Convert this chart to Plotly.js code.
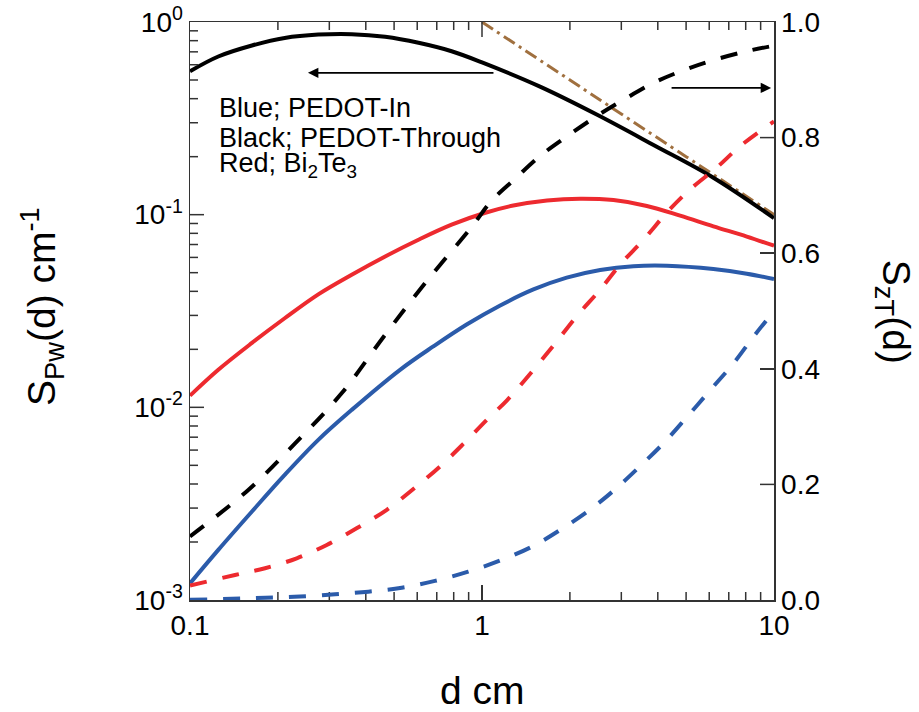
<!DOCTYPE html>
<html>
<head>
<meta charset="utf-8">
<script src="https://cdn.plot.ly/plotly-3.0.1.min.js"></script>
<style>html,body{margin:0;padding:0;background:#fff;}#chart{width:919px;height:712px;}</style>
</head>
<body>
<div id="chart"></div>
<script>
// ---- data (d in cm) ----
// S_Pw(d) cm^-1, left log axis, solid lines
const dSpwBlue = [0.1, 0.125, 0.163, 0.211, 0.275, 0.358, 0.524, 0.681, 0.886, 1.15, 1.5, 1.95, 2.54, 3.3, 4.3, 6.2, 8.07, 10];
const spwBlue  = [0.00122, 0.00182, 0.00288, 0.00446, 0.00678, 0.0097, 0.01566, 0.0207, 0.0269, 0.0337, 0.0409, 0.0471, 0.0516, 0.0540, 0.0543, 0.0522, 0.0494, 0.0463];

const dSpwRed = [0.1, 0.125, 0.163, 0.211, 0.275, 0.358, 0.466, 0.606, 0.787, 1.02, 1.28, 1.67, 2.17, 2.82, 3.67, 4.77, 6.2, 8.07, 10];
const spwRed  = [0.0115, 0.01567, 0.0216, 0.029, 0.0386, 0.0488, 0.0607, 0.0741, 0.0887, 0.102, 0.1115, 0.1185, 0.121, 0.119, 0.111, 0.0988, 0.087, 0.077, 0.069];

const dSpwBlack = [0.1, 0.125, 0.163, 0.211, 0.275, 0.358, 0.466, 0.606, 0.787, 1.0, 1.58, 2.48, 3.91, 6.18, 10];
const spwBlack  = [0.555, 0.662, 0.755, 0.826, 0.860, 0.865, 0.838, 0.780, 0.705, 0.617, 0.462, 0.330, 0.228, 0.156, 0.096];

// reference line (brown dash-dot, left axis)
const dRef = [1, 2, 3, 5, 7, 10];
const sRef = [1.0, 0.5, 0.333, 0.2, 0.143, 0.1];

// S_zT(d), right linear axis, dashed lines
const dSztBlue = [0.1, 0.139, 0.181, 0.238, 0.314, 0.408, 0.531, 0.69, 0.897, 1.15, 1.48, 1.85, 2.34, 2.88, 3.47, 4.18, 5.04, 6.07, 7.28, 8.52, 10];
const sztBlue  = [0.0005, 0.002, 0.004, 0.006, 0.010, 0.0144, 0.0213, 0.033, 0.049, 0.068, 0.092, 0.121, 0.156, 0.193, 0.231, 0.271, 0.317, 0.364, 0.410, 0.456, 0.500];

const dSztRed = [0.1, 0.1426, 0.1807, 0.232, 0.294, 0.372, 0.472, 0.582, 0.718, 0.863, 1.04, 1.22, 1.5, 1.8, 2.11, 2.54, 2.97, 3.57, 4.29, 5.15, 6.36, 7.65, 10];
const sztRed  = [0.025, 0.0433, 0.055, 0.0722, 0.0952, 0.124, 0.156, 0.192, 0.231, 0.270, 0.312, 0.346, 0.398, 0.447, 0.491, 0.537, 0.580, 0.623, 0.670, 0.710, 0.748, 0.785, 0.828];

const dSztBlack = [0.1, 0.158, 0.229, 0.331, 0.466, 0.638, 0.923, 1.08, 1.30, 1.58, 1.94, 2.45, 3.02, 3.88, 4.99, 6.40, 8.32, 10];
const sztBlack  = [0.110, 0.190, 0.271, 0.358, 0.459, 0.548, 0.646, 0.691, 0.729, 0.768, 0.801, 0.836, 0.864, 0.895, 0.918, 0.936, 0.951, 0.959];

// ---- ticks ----
const xTickVals = [0.1, 1, 10];
const xTickText = ['0.1', '1', '10'];
const xMinor = [0.2, 0.3, 0.4, 0.5, 0.6, 0.7, 0.8, 0.9, 2, 3, 4, 5, 6, 7, 8, 9];
const yTickVals = [0.001, 0.01, 0.1, 1];
const yTickText = ['10<sup>-3</sup>', '10<sup>-2</sup>', '10<sup>-1</sup>', '10<sup>0</sup>'];
const yMinor = [0.002, 0.003, 0.004, 0.005, 0.006, 0.007, 0.008, 0.009,
                0.02, 0.03, 0.04, 0.05, 0.06, 0.07, 0.08, 0.09,
                0.2, 0.3, 0.4, 0.5, 0.6, 0.7, 0.8, 0.9];
const y2TickVals = [0, 0.2, 0.4, 0.6, 0.8, 1.0];
const y2TickText = ['0.0', '0.2', '0.4', '0.6', '0.8', '1.0'];

const RED = '#ED2A2F', BLUE = '#2B5BAA', BLACK = '#000000', BROWN = '#A0703F';
const FONT = 'Liberation Sans, Arial, sans-serif';
const dashPat = '17px,16px';
const AX = '#333333';

const W = 919, H = 712, M = {l: 190, r: 145, t: 22, b: 112};
const PW = W - M.l - M.r, PH = H - M.t - M.b;
const XR = [-1, 1], YR = [-3, 0], Y2R = [0, 1];

function line(x, y, color, axis, dash, width) {
  return {x: x, y: y, type: 'scatter', mode: 'lines', xaxis: 'x', yaxis: axis,
    line: {color: color, width: width || 4, dash: dash || 'solid', shape: 'spline', smoothing: 1.0},
    showlegend: false, hoverinfo: 'skip'};
}

// inside tick marks, built from the tick value arrays (axis decoration)
const pxPerDecX = PW / (XR[1] - XR[0]), pxPerDecY = PH / (YR[1] - YR[0]), pxPerUnitY2 = PH / (Y2R[1] - Y2R[0]);
const inner = arr => arr.filter(v => v > arr[0] && v < arr[arr.length - 1]);
const tX = [], tY = [], t2X = [], t2Y = [];
function xTick(v, len) {
  const yBot = Math.pow(10, YR[0]), yTop = Math.pow(10, YR[1]);
  tX.push(v, v, null, v, v, null);
  tY.push(yBot, Math.pow(10, YR[0] + len / pxPerDecY), null, yTop, Math.pow(10, YR[1] - len / pxPerDecY), null);
}
function yTick(v, len) {
  tX.push(Math.pow(10, XR[0]), Math.pow(10, XR[0] + len / pxPerDecX), null);
  tY.push(v, v, null);
}
function y2Tick(v, len) {
  t2X.push(Math.pow(10, XR[1]), Math.pow(10, XR[1] - len / pxPerDecX), null);
  t2Y.push(v, v, null);
}
inner(xTickVals).forEach(v => xTick(v, 15));
xMinor.forEach(v => xTick(v, 8));
inner(yTickVals).forEach(v => yTick(v, 14));
yMinor.forEach(v => yTick(v, 8));
inner(y2TickVals).forEach(v => y2Tick(v, 14));

const traces = [
  line(dSztBlue, sztBlue, BLUE, 'y2', dashPat),
  line(dSztRed, sztRed, RED, 'y2', dashPat),
  line(dSztBlack, sztBlack, BLACK, 'y2', dashPat),
  line(dRef, sRef, BROWN, 'y', '13px,5px,3px,5px', 3),
  line(dSpwBlue, spwBlue, BLUE, 'y'),
  line(dSpwRed, spwRed, RED, 'y'),
  line(dSpwBlack, spwBlack, BLACK, 'y'),
  {x: tX, y: tY, xaxis: 'x', yaxis: 'y', type: 'scatter', mode: 'lines', connectgaps: false,
   line: {color: AX, width: 1.5}, showlegend: false, hoverinfo: 'skip'},
  {x: t2X, y: t2Y, xaxis: 'x', yaxis: 'y2', type: 'scatter', mode: 'lines', connectgaps: false,
   line: {color: AX, width: 1.5}, showlegend: false, hoverinfo: 'skip'}
];

const layout = {
  width: W, height: H,
  margin: M,
  paper_bgcolor: '#ffffff', plot_bgcolor: '#ffffff',
  font: {family: FONT, size: 28, color: '#000'},
  xaxis: {type: 'log', range: XR, tickvals: xTickVals, ticktext: xTickText,
    ticks: 'inside', ticklen: 15, tickwidth: 1.5, tickcolor: AX,
    showline: true, linecolor: AX, linewidth: 1.5, mirror: true, showgrid: false, zeroline: false},
  yaxis: {type: 'log', range: YR, tickvals: yTickVals, ticktext: yTickText,
    ticks: 'inside', ticklen: 14, tickwidth: 1.5, tickcolor: AX,
    showline: true, linecolor: AX, linewidth: 1.5, mirror: false, showgrid: false, zeroline: false},
  yaxis2: {overlaying: 'y', anchor: 'x', side: 'right', range: Y2R, tickvals: y2TickVals, ticktext: y2TickText,
    ticks: 'inside', ticklen: 14, tickwidth: 1.5, tickcolor: AX,
    showline: true, linecolor: AX, linewidth: 1.5, showgrid: false, zeroline: false},
  annotations: [
    {text: 'd cm', xref: 'paper', yref: 'paper', x: 0.5, y: -0.156, xanchor: 'center', yanchor: 'middle',
      showarrow: false, font: {size: 39}},
    {text: 'S<sub>Pw</sub>(d) cm<sup>-1</sup>', xref: 'paper', yref: 'paper', x: -0.2534, y: 0.507,
      xanchor: 'center', yanchor: 'middle', textangle: -90, showarrow: false, font: {size: 39}},
    {text: 'S<sub>zT</sub>(d)', xref: 'paper', yref: 'paper', x: 1.205, y: 0.499,
      xanchor: 'center', yanchor: 'middle', textangle: 90, showarrow: false, font: {size: 39}},
    {text: 'Blue; PEDOT-In', xref: 'paper', yref: 'paper', x: 0.0454, y: 0.851,
      xanchor: 'left', yanchor: 'middle', showarrow: false, font: {size: 27}},
    {text: 'Black; PEDOT-Through', xref: 'paper', yref: 'paper', x: 0.0454, y: 0.8,
      xanchor: 'left', yanchor: 'middle', showarrow: false, font: {size: 27}},
    {text: 'Red; Bi<sub>2</sub>Te<sub>3</sub>', xref: 'paper', yref: 'paper', x: 0.0454, y: 0.752,
      xanchor: 'left', yanchor: 'middle', showarrow: false, font: {size: 27}},
    {text: '', xref: 'paper', yref: 'paper', x: 0.202, y: 0.912, ax: 187, ay: 0,
      showarrow: true, arrowhead: 2, arrowsize: 1.3, arrowwidth: 1.6, arrowcolor: '#000'},
    {text: '', xref: 'paper', yref: 'paper', x: 0.995, y: 0.886, ax: -101, ay: 0,
      showarrow: true, arrowhead: 2, arrowsize: 1.3, arrowwidth: 1.6, arrowcolor: '#000'}
  ]
};

Plotly.newPlot('chart', traces, layout, {staticPlot: true, displayModeBar: false});
</script>
</body>
</html>
